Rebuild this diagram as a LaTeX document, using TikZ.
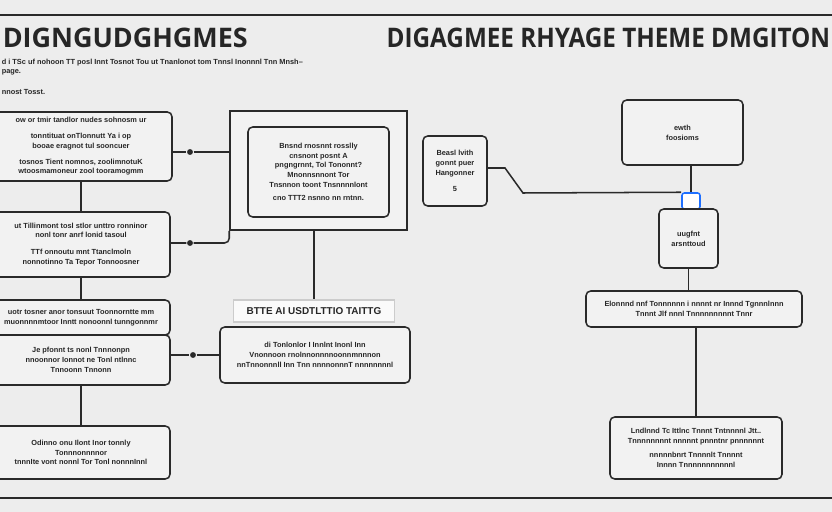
\documentclass[tikz,border=0pt]{standalone}
\usepackage{fontspec}
\setmainfont{Liberation Sans}
\newfontfamily\headfont{Open Sans}
\usepackage{tikz}
\usetikzlibrary{positioning,calc}
\definecolor{bgfill}{HTML}{EDEDED}
\definecolor{boxfill}{HTML}{F2F2F2}
\definecolor{linegray}{HTML}{2A2A2A}
\definecolor{textgray}{HTML}{262626}
\definecolor{glitch}{HTML}{1E6FFF}
\newcommand{\pxu}{0.03cm}

\begin{document}
\begin{tikzpicture}[x=0.03cm, y=-0.03cm, line width=1.3pt, draw=linegray, text=textgray,
box node/.style={draw=linegray, rounded corners=4pt, fill=boxfill, align=center, inner sep=0pt, font=\bfseries\fontsize{6.3}{8.4}\selectfont},
frame node/.style={draw=linegray, fill=boxfill, inner sep=0pt},
dot node/.style={circle, fill=linegray, inner sep=0pt, minimum size=5pt},
head node/.style={anchor=west, inner sep=0pt, font=\headfont\bfseries\fontsize{23}{23}\selectfont},
note node/.style={anchor=north west, align=left, inner sep=0pt, font=\bfseries\fontsize{6.3}{8.4}\selectfont}]
\fill[bgfill] (0,0) rectangle (832,512);
\useasboundingbox (0,0) rectangle (832,512);
\draw (0,15) -- (832,15);
\draw (0,498) -- (832,498);
% headings
\node[head node] (t1) at (2,38) {DIGNGUDGHGMES};
\node[head node, xscale=0.9] (t2) at (386,38) {DIGAGMEE RHYAGE THEME DMGITON};
\node[note node] (n1) at (1,58) {d i TSc uf nohoon TT posl Innt Tosnot Tou ut Tnanlonot tom Tnnsl Inonnnl Tnn Mnsh--\\ page.};
\node[note node] (n2) at (1,89) {nnost Tosst.};
% left column
\node[box node, minimum width=182*\pxu, minimum height=69*\pxu] (1) at (81,146.5) {ow or tmir tandlor nudes sohnosm ur\\[5pt] tonntituat onTlonnutt Ya i op\\ booae eragnot tul sooncuer\\[5pt] tosnos Tient nomnos, zoolimnotuK\\ wtoosmamoneur zool tooramogmm};
\node[box node, minimum width=178*\pxu, minimum height=65*\pxu] (2) at (81,244.5) {ut Tillinmont tosl stlor unttro ronninor\\ nonl tonr anrf lonid tasoul\\[6pt] TTf onnoutu  mnt Ttanclmoln\\ nonnotinno Ta Tepor Tonnoosner};
\node[box node, minimum width=178*\pxu, minimum height=35*\pxu] (3) at (81,317.5) {uotr tosner anor tonsuut  Toonnorntte mm\\ muonnnnmtoor Inntt nonoonnl tunngonnmr};
\node[box node, minimum width=178*\pxu, minimum height=50*\pxu] (4) at (81,360) {Je pfonnt ts nonl Tnnnonpn\\ nnoonnor Ionnot ne Tonl ntlnnc\\ Tnnoonn Tnnonn};
\node[box node, minimum width=178*\pxu, minimum height=53*\pxu] (5) at (81,452.5) {Odinno onu Ilont Inor tonnly\\ Tonnnonnnnor\\ tnnnIte vont nonnl Tor Tonl nonnnInnl};
% middle column
\node[frame node, minimum width=177*\pxu, minimum height=119*\pxu] (6) at (318.5,170.5) {};
\node[box node, minimum width=141*\pxu, minimum height=90*\pxu] (7) at (318.5,172) {Bnsnd rnosnnt rosslly\\ cnsnont posnt A\\ pngngrnnt, Tol Tononnt?\\ Mnonnsnnont Tor\\ Tnsnnon toont Tnsnnnnlont\\[3pt] cno TTT2 nsnno nn rntnn.};
\node[frame node, draw=gray!40, fill=white!60!boxfill, minimum width=161*\pxu, minimum height=22*\pxu, font=\bfseries\fontsize{8.5}{10}\selectfont] (8) at (314,311) {BTTE AI USDTLTTIO TAITTG};
\node[box node, minimum width=190*\pxu, minimum height=56*\pxu] (9) at (315,355) {di Tonlonlor I Innlnt Inonl Inn\\ Vnonnoon rnolnnonnnnoonnmnnnon\\ nnTnnonnnll Inn Tnn nnnnonnnT nnnnnnnnl};
% right column
\node[box node, minimum width=64*\pxu, minimum height=70*\pxu] (10) at (455,171) {Beasl lvith\\ gonnt puer\\ Hangonner\\[5pt] 5};
\node[box node, minimum width=121*\pxu, minimum height=65*\pxu] (11) at (682.5,132.5) {ewth\\ foosioms};
\node[draw=glitch, fill=white, rounded corners=2pt, minimum width=18*\pxu, minimum height=16*\pxu, inner sep=0pt] (12) at (691,201) {};
\node[box node, minimum width=59*\pxu, minimum height=59*\pxu] (13) at (688.5,238.5) {uugfnt\\ arsnttoud};
\node[box node, minimum width=216*\pxu, minimum height=36*\pxu] (14) at (694,309) {Elonnnd nnf Tonnnnnn  i  nnnnt  nr Innnd Tgnnnlnnn\\ Tnnnt Jlf nnnl Tnnnnnnnnnt Tnnr};
\node[box node, minimum width=172*\pxu, minimum height=62*\pxu] (15) at (696,448) {Lndlnnd Tc Ittlnc Tnnnt Tntnnnnl Jtt..\\ Tnnnnnnnnt nnnnnt pnnntnr pnnnnnnt\\[4pt] nnnnnbnrt Tnnnnlt Tnnnnt\\ Innnn Tnnnnnnnnnnnl};
% joints
\node[dot node] (d1) at (190,152) {};
\node[dot node] (d2) at (190,243) {};
\node[dot node] (d3) at (193,355) {};
\coordinate (c1) at (505,168);
\coordinate (c2) at (523,193);
\path
(1) edge (2)
(2) edge (3)
(4) edge (5)
(d1 -| 1.east) edge (d1)
(d1) edge (d1 -| 6.west)
(d3 -| 4.east) edge (d3)
(d3) edge (d3 -| 9.west)
(6.south -| 8.north) edge (8.north)
(11.south -| 12.north) edge (12.north)
(12.south) edge (12.south |- 13.north)
(13.south) edge (13.south |- 14.north)
(14.south -| 15.north) edge (15.north);
\draw[rounded corners=4pt] (d2 -| 2.east) -- (d2) -| (6.south west);
\draw (c1 -| 10.east) -- (c1) -- (c2) -- (12.north west);
\end{tikzpicture}
\end{document}
